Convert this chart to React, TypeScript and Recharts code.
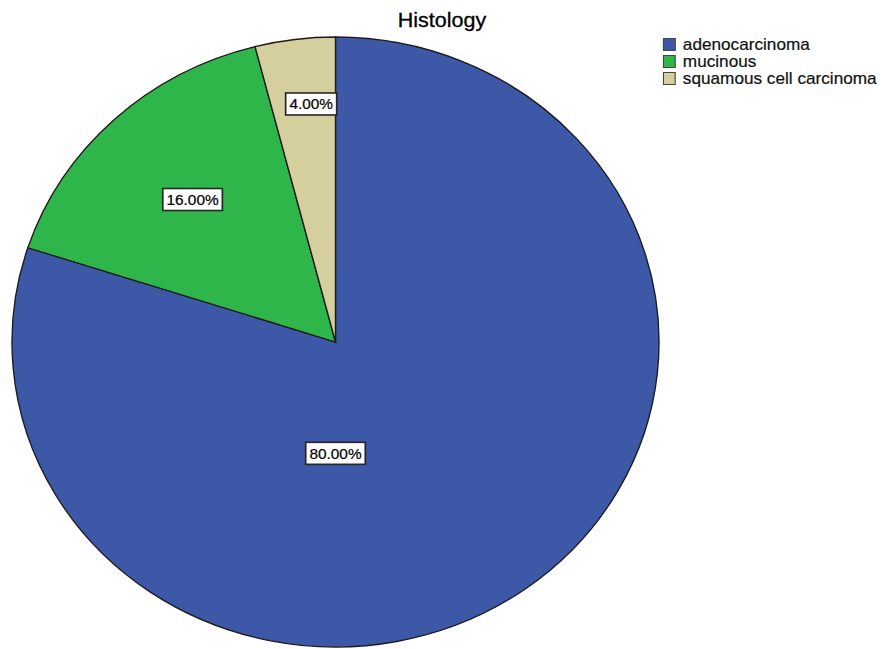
import { PieChart, Pie, Cell, Legend } from 'recharts';

const categories = ['adenocarcinoma', 'mucinous', 'squamous cell carcinoma'];
const shares = [80, 16, 4];
const sliceColors = ['#3e58a8', '#2eb64b', '#d4cf9c'];

// value boxes: polar angle (deg) and fraction of the radius
const labelAngles = [-90, 133.4, 95.5];
const labelRadii = [0.365, 0.643, 0.784];

const rows = categories.map((name, i) => ({ name, value: shares[i] }));

// the whole chart is stretched sideways, so the pie comes out as an ellipse
const STRETCH = 1.0607;
const W = 840;
const H = 649;
const CX = 316.3;
const CY = 342;
const R = 305;
const RAD = Math.PI / 180;
const FONT = '"Liberation Sans", Arial, Helvetica, sans-serif';

let ctx: CanvasRenderingContext2D | null = null;
function textWidth(s: string, size: number) {
  if (!ctx) ctx = document.createElement('canvas').getContext('2d');
  if (!ctx) return s.length * size * 0.55;
  ctx.font = `${size}px ${FONT}`;
  return ctx.measureText(s).width;
}

function ValueBox(props: any) {
  const { cx, cy, outerRadius, index, value } = props;
  const total = shares.reduce((a, b) => a + b, 0);
  const a = labelAngles[index] * RAD;
  const r = outerRadius * labelRadii[index];
  const x = cx + r * Math.cos(a);
  const y = cy - r * Math.sin(a);
  const text = `${((value / total) * 100).toFixed(2)}%`;
  const w = textWidth(text, 14.5) + 7;
  const h = 22;
  return (
    <g>
      <rect x={x - w / 2} y={y - h / 2} width={w} height={h} fill="#fff" stroke="#262626" strokeWidth={1.6} />
      <text
        x={x}
        y={y}
        dy="0.36em"
        textAnchor="middle"
        fontSize={14.5}
        fontFamily={FONT}
        fill="#000"
        stroke="#000"
        strokeWidth={0.2}
      >
        {text}
      </text>
    </g>
  );
}

function LegendList() {
  return (
    <div style={{ fontFamily: FONT, fontSize: 16.2, color: '#111', WebkitTextStroke: '0.2px #111' }}>
      {categories.map((name, i) => (
        <div key={name} style={{ display: 'flex', alignItems: 'center', height: 16.8, whiteSpace: 'nowrap' }}>
          <span
            style={{
              display: 'inline-block',
              width: 10.4,
              height: 11,
              background: sliceColors[i],
              border: '1px solid #444',
              marginRight: 6.4,
            }}
          />
          <span>{name}</span>
        </div>
      ))}
    </div>
  );
}

export default function App() {
  return (
    <div style={{ position: 'absolute', left: 0, top: 0, width: 891, height: 649, overflow: 'hidden', background: '#fff' }}>
      <div style={{ position: 'relative', width: W, height: H, transform: `scaleX(${STRETCH})`, transformOrigin: '0 0' }}>
        <div
          style={{
            position: 'absolute',
            left: 0,
            width: 833.4,
            top: 9.5,
            lineHeight: '20px',
            textAlign: 'center',
            fontFamily: FONT,
            fontSize: 20.3,
            color: '#000',
            WebkitTextStroke: '0.3px #000',
          }}
        >
          Histology
        </div>
        <PieChart width={W} height={H} margin={{ top: 0, right: 0, bottom: 0, left: 0 }}>
          <Pie
            data={rows}
            dataKey="value"
            nameKey="name"
            cx={CX}
            cy={CY}
            outerRadius={R}
            startAngle={90}
            endAngle={-270}
            stroke="#1c1c1c"
            strokeWidth={1.3}
            label={ValueBox}
            labelLine={false}
            isAnimationActive={false}
          >
            {rows.map((r, i) => (
              <Cell key={r.name} fill={sliceColors[i]} />
            ))}
          </Pie>
          <Legend
            layout="vertical"
            align="right"
            verticalAlign="top"
            content={() => <LegendList />}
            wrapperStyle={{ left: 625, top: 36.5, width: 210 }}
          />
        </PieChart>
      </div>
    </div>
  );
}
